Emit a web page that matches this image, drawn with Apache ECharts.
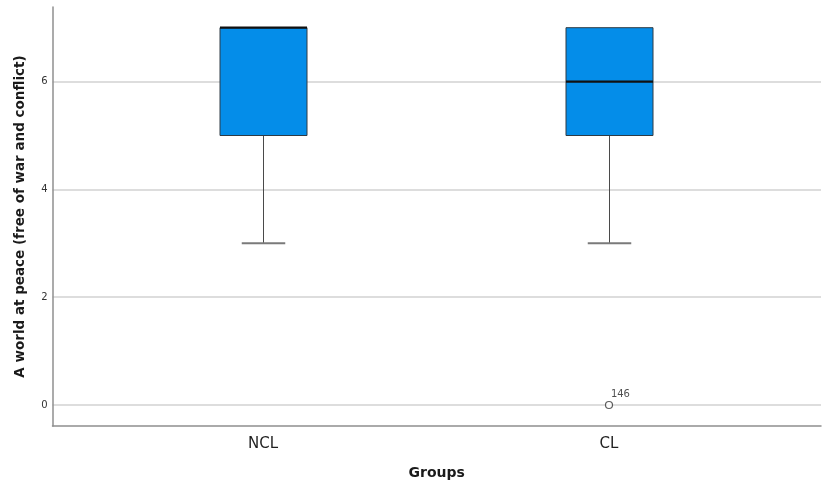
<!DOCTYPE html>
<html>
<head>
<meta charset="utf-8">
<script src="https://cdn.jsdelivr.net/npm/echarts@6/dist/echarts.min.js"></script>
<style>
  html, body { margin: 0; padding: 0; background: #fff; }
  #chart { width: 825px; height: 486px; }
</style>
</head>
<body>
<div id="chart"></div>
<script>
// Box plot summary per group
const groups = ['NCL', 'CL'];
const whiskerLow = [3, 3];
const q1 = [5, 5];
const median = [7, 6];
const q3 = [7, 7];
const whiskerHigh = [7, 7];
// Outliers: [group, value, case id]
const outliers = [['CL', 0, '146']];
const yTicks = [0, 2, 4, 6];

const yTitle = 'A world at peace (free of war and conflict)';
const xTitle = 'Groups';

const FONT = 'DejaVu Sans';

// Plot frame geometry (pixels)
const frameLeft = 52.5, frameRight = 821, frameTop = 7, frameBottom = 426;
const yZero = 405, unit = 53.9;
const yTopTick = yZero - unit * yTicks[yTicks.length - 1];
const frameMinVal = -(frameBottom - yZero) / unit;
const frameMaxVal = (yZero - frameTop) / unit;

const W = 825, H = 486;

const boxData = groups.map((g, i) => [i, whiskerLow[i], q1[i], median[i], q3[i], whiskerHigh[i]]);

const chart = echarts.init(document.getElementById('chart'), null, { renderer: 'canvas' });

chart.setOption({
  animation: false,
  backgroundColor: '#ffffff',
  grid: [
    // frame: axis lines and titles
    { left: frameLeft, right: W - frameRight, top: frameTop, bottom: H - frameBottom },
    // tick labels and gridlines
    { left: frameLeft, right: W - frameRight, top: yTopTick, bottom: H - yZero },
    // boxes and group labels
    { left: 90, right: W - 782, top: yTopTick, bottom: H - yZero }
  ],
  xAxis: [
    {
      gridIndex: 0, type: 'value', min: 0, max: 1,
      axisLine: { show: true, onZero: false, lineStyle: { color: '#8f8f8f', width: 1.5 } },
      axisTick: { show: false }, axisLabel: { show: false }, splitLine: { show: false },
      name: xTitle, nameLocation: 'middle', nameGap: 40,
      nameTextStyle: { fontFamily: FONT, fontWeight: 'bold', fontSize: 14, color: '#1a1a1a' }
    },
    {
      gridIndex: 1, type: 'value', min: 0, max: 1, show: false
    },
    {
      gridIndex: 2, type: 'category', data: groups, boundaryGap: true,
      axisLine: { show: false, onZero: false }, axisTick: { show: false }, splitLine: { show: false },
      axisLabel: { margin: 32, fontFamily: FONT, fontSize: 15, color: '#1f1f1f' }
    }
  ],
  yAxis: [
    {
      gridIndex: 0, type: 'value', min: frameMinVal, max: frameMaxVal,
      axisLine: { show: true, onZero: false, lineStyle: { color: '#8f8f8f', width: 1.5 } },
      axisTick: { show: false }, axisLabel: { show: false }, splitLine: { show: false },
      name: yTitle, nameLocation: 'middle', nameGap: 25,
      nameTextStyle: { fontFamily: FONT, fontWeight: 'bold', fontSize: 13.5, color: '#1a1a1a' }
    },
    {
      gridIndex: 1, type: 'value',
      min: yTicks[0], max: yTicks[yTicks.length - 1], interval: yTicks[1] - yTicks[0],
      axisLine: { show: false }, axisTick: { show: false },
      axisLabel: { margin: 5, fontFamily: FONT, fontSize: 10, color: '#333333' },
      splitLine: { show: true, lineStyle: { color: '#d2d2d2', width: 1.5 } }
    },
    {
      gridIndex: 2, type: 'value',
      min: yTicks[0], max: yTicks[yTicks.length - 1], show: false
    }
  ],
  series: [
    {
      type: 'custom',
      xAxisIndex: 2, yAxisIndex: 2,
      clip: false,
      data: boxData,
      renderItem: function (params, api) {
        const idx = api.value(0);
        const pLow = api.coord([idx, api.value(1)]);
        const pQ1 = api.coord([idx, api.value(2)]);
        const pMed = api.coord([idx, api.value(3)]);
        const pQ3 = api.coord([idx, api.value(4)]);
        const pHigh = api.coord([idx, api.value(5)]);
        const band = api.size([1, 0])[0];
        const bw = Math.round(band * 0.25);
        const cx = Math.round(pLow[0]) + 0.5;
        const half = bw / 2;
        const cap = bw / 4;
        const children = [];
        // lower whisker
        children.push({ type: 'line', shape: { x1: cx, y1: pQ1[1], x2: cx, y2: pLow[1] },
          style: { stroke: '#4a4a4a', lineWidth: 1 } });
        children.push({ type: 'line', shape: { x1: cx - cap, y1: pLow[1], x2: cx + cap, y2: pLow[1] },
          style: { stroke: '#7a7a7a', lineWidth: 2 } });
        // upper whisker
        if (pHigh[1] < pQ3[1] - 0.5) {
          children.push({ type: 'line', shape: { x1: cx, y1: pQ3[1], x2: cx, y2: pHigh[1] },
            style: { stroke: '#4a4a4a', lineWidth: 1 } });
          children.push({ type: 'line', shape: { x1: cx - cap, y1: pHigh[1], x2: cx + cap, y2: pHigh[1] },
            style: { stroke: '#7a7a7a', lineWidth: 2 } });
        }
        // box
        children.push({ type: 'rect',
          shape: { x: cx - half, y: pQ3[1], width: bw, height: pQ1[1] - pQ3[1] },
          style: { fill: '#048de9', stroke: '#2e3a44', lineWidth: 1 } });
        // median
        children.push({ type: 'line', shape: { x1: cx - half, y1: pMed[1], x2: cx + half, y2: pMed[1] },
          style: { stroke: '#111111', lineWidth: 2.2 } });
        return { type: 'group', children: children };
      }
    },
    {
      type: 'scatter',
      xAxisIndex: 2, yAxisIndex: 2,
      clip: false,
      data: outliers.map(o => ({ value: [o[0], o[1]], name: o[2] })),
      symbol: 'circle', symbolSize: 7,
      itemStyle: { color: '#ffffff', borderColor: '#333333', borderWidth: 1.2 },
      label: {
        show: true, formatter: p => p.name, position: [6, -11],
        fontFamily: FONT, fontSize: 10, color: '#222222'
      }
    }
  ]
});
</script>
</body>
</html>
